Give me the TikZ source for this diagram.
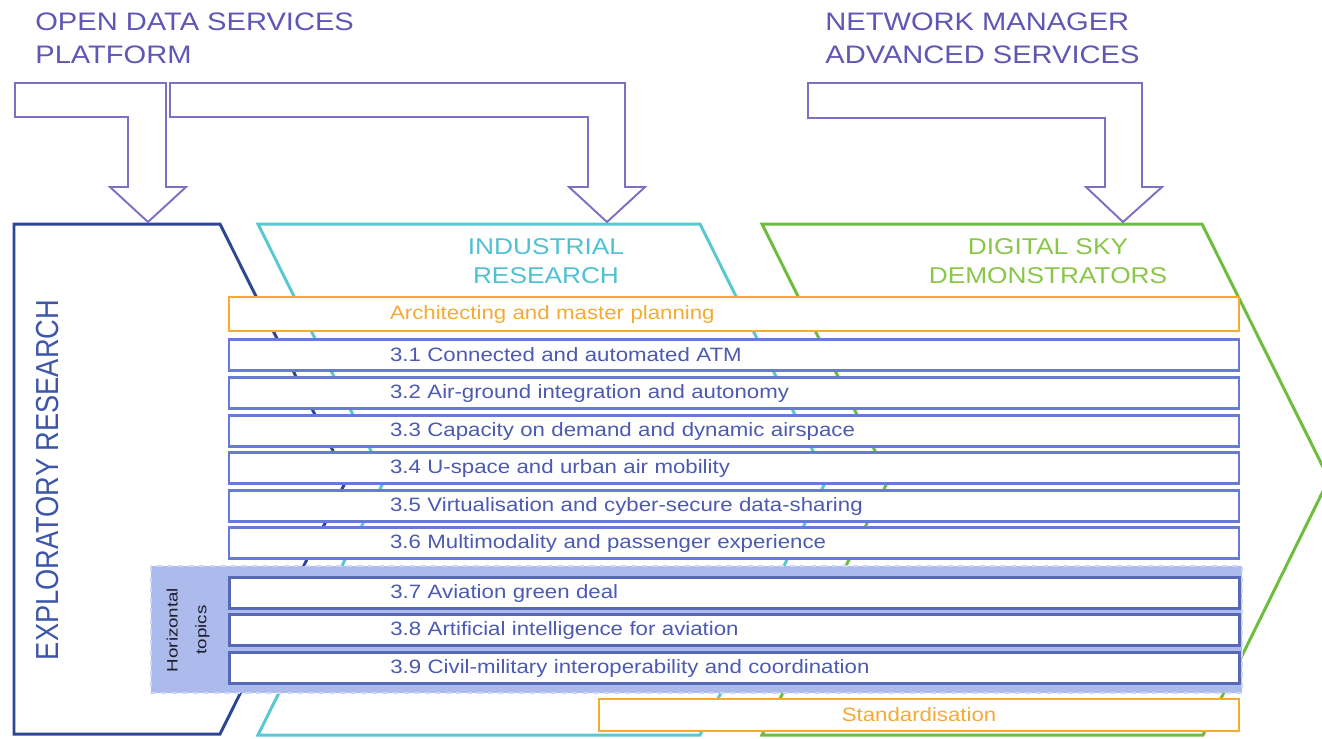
\documentclass[tikz,border=0pt]{standalone}
\usepackage{fontspec}
\setmainfont{Liberation Sans}[FakeStretch=1.15]
\newfontfamily\plainsans{Liberation Sans}
\definecolor{odspurple}{RGB}{122,112,196}
\definecolor{odstext}{RGB}{96,86,182}
\definecolor{exploblue}{RGB}{45,70,150}
\definecolor{explotext}{RGB}{62,86,170}
\definecolor{indcyan}{RGB}{88,200,210}
\definecolor{indtext}{RGB}{78,194,210}
\definecolor{skygreen}{RGB}{110,190,62}
\definecolor{skytext}{RGB}{138,198,72}
\definecolor{archorange}{RGB}{245,170,52}
\definecolor{barblue}{RGB}{102,122,214}
\definecolor{bartext}{RGB}{76,90,176}
\definecolor{topicsbg}{RGB}{172,186,236}

\begin{document}
\begin{tikzpicture}[x=0.02cm, y=-0.02cm,
  bigarrow/.style={draw=odspurple, line width=1.1pt, fill=white},
  chevron/.style={line width=1.7pt, fill=white},
  toplabel/.style={anchor=north west, inner sep=0pt, align=left, text=odstext, font=\fontsize{14.4}{19.3}\selectfont},
  phase/.style={anchor=north, inner sep=0pt, align=center, font=\fontsize{13}{16.4}\selectfont},
  bar/.style={draw=barblue, line width=1.3pt, fill=white, anchor=west, inner sep=0pt, text width=20.2cm, minimum height=0.62cm, align=left, text=bartext, font=\fontsize{11}{13}\selectfont},
  hbar/.style={bar, line width=1.6pt, draw=barblue!85!black},
  orangebar/.style={bar, draw=archorange, text=archorange}]
\useasboundingbox (0,0) rectangle (1322,738);
\clip (0,0) rectangle (1322,738);

\draw[chevron, draw=exploblue] (14,224) -- (220,224) -- (347,479) -- (220,734) -- (14,734) -- cycle;
\draw[chevron, draw=indcyan] (258,224) -- (700,224) -- (827,479) -- (700,735) -- (258,735) -- (385,479) -- cycle;
\draw[chevron, draw=skygreen] (762,224) -- (1202,224) -- (1329,479) -- (1203,735) -- (762,735) -- (889,479) -- cycle;

\draw[bigarrow] (15,83) -- (166,83) -- (166,187) -- (186,187) -- (148,222) -- (110,187) -- (128,187) -- (128,117) -- (15,117) -- cycle;
\draw[bigarrow] (170,83) -- (625,83) -- (625,187) -- (645,187) -- (607,222) -- (569,187) -- (588,187) -- (588,117) -- (170,117) -- cycle;
\draw[bigarrow] (808,83) -- (1142,83) -- (1142,187) -- (1162,187) -- (1123,222) -- (1086,187) -- (1105,187) -- (1105,118) -- (808,118) -- cycle;

\node[toplabel] (ODSP) at (35,12) {OPEN DATA SERVICES\\PLATFORM};
\node[toplabel] (NMAS) at (825,12) {NETWORK MANAGER\\ADVANCED SERVICES};
\node[phase, text=indtext] (IR) at (546,238) {INDUSTRIAL\\RESEARCH};
\node[phase, text=skytext] (DSD) at (1048,238) {DIGITAL SKY\\DEMONSTRATORS};
\node[rotate=90, inner sep=0pt, text=explotext, font=\plainsans\fontsize{15.5}{18}\selectfont] (ER) at (48,480) {\scalebox{1}[1.17]{EXPLORATORY RESEARCH}};

\fill[topicsbg] (151,566) rectangle (1242,693);
\draw[topicsbg!60!white, line width=0.6pt, dashed] (151,566) rectangle (1242,693);
\node[rotate=90, inner sep=0pt, align=center, text={rgb,255:red,30;green,30;blue,40}, font=\plainsans\fontsize{8.2}{16.4}\selectfont] (HT) at (188,630) {\scalebox{1.3}[1.05]{Horizontal}\\\scalebox{1.3}[1.05]{topics}};

\node[orangebar, minimum height=0.68cm] (AMP) at (228,314) {\hspace*{3.22cm}Architecting and master planning};
\node[bar] (T31) at (228,355) {\hspace*{3.22cm}3.1 Connected and automated ATM};
\node[bar] (T32) at (228,393) {\hspace*{3.22cm}3.2 Air-ground integration and autonomy};
\node[bar] (T33) at (228,431) {\hspace*{3.22cm}3.3 Capacity on demand and dynamic airspace};
\node[bar] (T34) at (228,468) {\hspace*{3.22cm}3.4 U-space and urban air mobility};
\node[bar] (T35) at (228,506) {\hspace*{3.22cm}3.5 Virtualisation and cyber-secure data-sharing};
\node[bar] (T36) at (228,543) {\hspace*{3.22cm}3.6 Multimodality and passenger experience};
\node[hbar] (T37) at (228,593) {\hspace*{3.22cm}3.7 Aviation green deal};
\node[hbar] (T38) at (228,630) {\hspace*{3.22cm}3.8 Artificial intelligence for aviation};
\node[hbar] (T39) at (228,668) {\hspace*{3.22cm}3.9 Civil-military interoperability and coordination};
\node[orangebar, text width=12.8cm, align=center, minimum height=0.64cm] (STD) at (598,715) {Standardisation};
\end{tikzpicture}
\end{document}
